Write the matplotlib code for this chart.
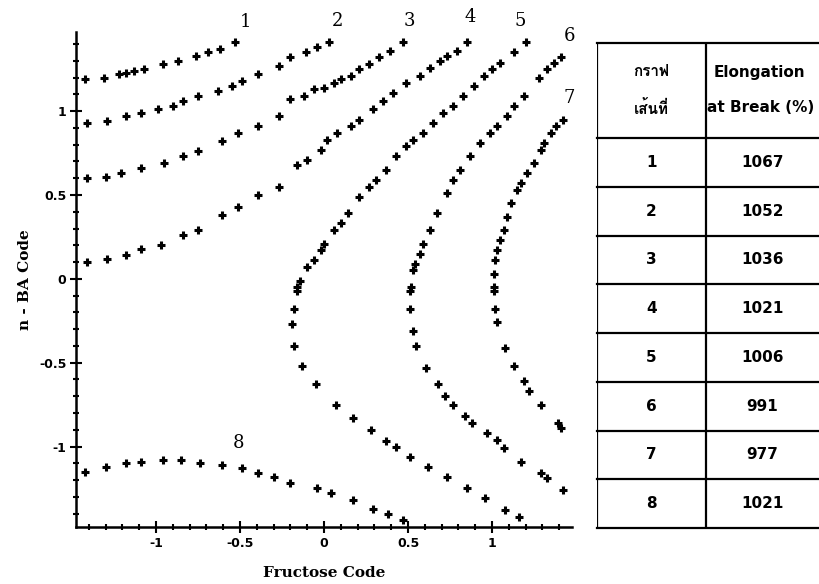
import matplotlib
matplotlib.use("Agg")
import matplotlib.pyplot as plt
from matplotlib import font_manager, ft2font
from matplotlib.ticker import MultipleLocator, FixedLocator

# contour lines of elongation at break, read as marker points (code units)
c1_x = [-1.42, -1.31, -1.22, -1.18, -1.13, -1.07, -0.96, -0.87, -0.76, -0.69, -0.62, -0.53]
c1_y = [1.19, 1.20, 1.22, 1.23, 1.24, 1.25, 1.28, 1.30, 1.33, 1.35, 1.37, 1.41]
c2_x = [-1.41, -1.29, -1.18, -1.09, -0.99, -0.90, -0.84, -0.75, -0.63, -0.55, -0.49, -0.39, -0.27, -0.20,
        -0.11, -0.04, 0.03]
c2_y = [0.93, 0.94, 0.97, 0.99, 1.01, 1.03, 1.06, 1.09, 1.12, 1.15, 1.18, 1.22, 1.27, 1.32, 1.35, 1.38, 1.41]
c3_x = [-1.41, -1.30, -1.21, -1.09, -0.95, -0.84, -0.75, -0.61, -0.51, -0.39, -0.27, -0.20, -0.12, -0.06,
        0.00, 0.06, 0.10, 0.16, 0.21, 0.27, 0.33, 0.39, 0.47]
c3_y = [0.60, 0.61, 0.63, 0.66, 0.69, 0.73, 0.76, 0.82, 0.87, 0.91, 0.97, 1.07, 1.09, 1.13, 1.14, 1.17, 1.19,
        1.21, 1.25, 1.28, 1.32, 1.36, 1.41]
c4_x = [-1.41, -1.29, -1.18, -1.09, -0.97, -0.84, -0.75, -0.61, -0.51, -0.39, -0.27, -0.16, -0.10, -0.02,
        0.02, 0.08, 0.16, 0.21, 0.29, 0.35, 0.41, 0.49, 0.57, 0.63, 0.69, 0.73, 0.79, 0.85]
c4_y = [0.10, 0.12, 0.14, 0.18, 0.20, 0.26, 0.29, 0.38, 0.43, 0.50, 0.55, 0.68, 0.71, 0.77, 0.83, 0.87, 0.91,
        0.95, 1.01, 1.06, 1.11, 1.17, 1.21, 1.26, 1.30, 1.33, 1.36, 1.41]
c5_x = [1.20, 1.13, 1.05, 1.00, 0.95, 0.89, 0.83, 0.77, 0.71, 0.65, 0.59, 0.53, 0.49, 0.43, 0.37, 0.31, 0.27,
        0.21, 0.14, 0.10, 0.06, 0.00, -0.02, -0.06, -0.10, -0.14, -0.16, -0.16, -0.18, -0.19, -0.18, -0.13,
        -0.05, 0.07, 0.17, 0.28, 0.37, 0.43, 0.51, 0.62, 0.73, 0.85, 0.96, 1.08, 1.16]
c5_y = [1.41, 1.35, 1.29, 1.25, 1.21, 1.15, 1.09, 1.03, 0.99, 0.93, 0.87, 0.83, 0.79, 0.73, 0.65, 0.59, 0.55,
        0.49, 0.39, 0.33, 0.29, 0.21, 0.17, 0.11, 0.07, -0.01, -0.05, -0.07, -0.18, -0.27, -0.40, -0.52,
        -0.63, -0.75, -0.83, -0.90, -0.97, -1.00, -1.06, -1.12, -1.18, -1.25, -1.31, -1.38, -1.42]
c6_x = [1.41, 1.37, 1.33, 1.28, 1.19, 1.13, 1.09, 1.03, 0.99, 0.93, 0.87, 0.81, 0.77, 0.73, 0.67, 0.63, 0.59,
        0.57, 0.54, 0.53, 0.52, 0.51, 0.51, 0.53, 0.55, 0.61, 0.68, 0.72, 0.77, 0.84, 0.88, 0.97, 1.03, 1.07,
        1.17, 1.29, 1.33, 1.42]
c6_y = [1.32, 1.29, 1.25, 1.20, 1.09, 1.03, 0.97, 0.91, 0.87, 0.81, 0.73, 0.65, 0.59, 0.51, 0.39, 0.29, 0.21,
        0.15, 0.09, 0.05, -0.05, -0.07, -0.18, -0.31, -0.40, -0.53, -0.63, -0.70, -0.75, -0.82, -0.86, -0.92,
        -0.96, -1.01, -1.09, -1.16, -1.19, -1.26]
c7_x = [1.42, 1.38, 1.35, 1.31, 1.29, 1.25, 1.21, 1.17, 1.15, 1.11, 1.09, 1.07, 1.05, 1.03, 1.02, 1.01, 1.01,
        1.01, 1.02, 1.03, 1.08, 1.13, 1.19, 1.22, 1.29, 1.39, 1.41]
c7_y = [0.95, 0.91, 0.87, 0.81, 0.77, 0.69, 0.63, 0.57, 0.53, 0.45, 0.37, 0.29, 0.23, 0.17, 0.11, 0.03, -0.05,
        -0.07, -0.18, -0.26, -0.41, -0.52, -0.61, -0.67, -0.75, -0.86, -0.89]
c8_x = [-1.42, -1.30, -1.18, -1.09, -0.96, -0.85, -0.74, -0.61, -0.49, -0.39, -0.30, -0.20, -0.04, 0.04, 0.17,
        0.29, 0.38, 0.47]
c8_y = [-1.15, -1.12, -1.10, -1.09, -1.08, -1.08, -1.10, -1.11, -1.13, -1.16, -1.18, -1.22, -1.25, -1.28, -1.32,
        -1.37, -1.40, -1.44]

curves_x = [c1_x, c2_x, c3_x, c4_x, c5_x, c6_x, c7_x, c8_x]
curves_y = [c1_y, c2_y, c3_y, c4_y, c5_y, c6_y, c7_y, c8_y]

# where each curve number is written
label_x = [-0.47, 0.08, 0.51, 0.87, 1.17, 1.46, 1.46, -0.51]
label_y = [1.53, 1.54, 1.54, 1.56, 1.54, 1.45, 1.08, -0.98]

line_no = ['1', '2', '3', '4', '5', '6', '7', '8']
elongation = [1067, 1052, 1036, 1021, 1006, 991, 977, 1021]
head_left = ['กราฟ', 'เส้นที่']
head_right = ['Elongation', 'at Break (%)']

xticks = [-1, -0.5, 0, 0.5, 1]
yticks = [-1, -0.5, 0, 0.5, 1]


def thai_family():
    # pick any installed font that actually has Thai glyphs
    for f in font_manager.fontManager.ttflist:
        try:
            if 0x0E01 in ft2font.FT2Font(f.fname).get_charmap():
                return f.name
        except Exception:
            pass
    return 'DejaVu Sans'


def main():
    fig = plt.figure(figsize=(8.2, 5.84), dpi=100)
    ax = fig.add_axes([76 / 820, 57 / 584, 496 / 820, 495 / 584])

    for xs, ys in zip(curves_x, curves_y):
        ax.plot(xs, ys, ls='none', marker='+', ms=5.5, mew=2.2, color='black')
    for k in range(len(line_no)):
        ax.text(label_x[k], label_y[k], line_no[k], fontsize=13, family='DejaVu Serif',
                ha='center', va='center', clip_on=False)

    ax.set_xlim(-1.476, 1.476)
    ax.set_ylim(-1.48, 1.472)
    for side in ['top', 'right']:
        ax.spines[side].set_visible(False)
    for side in ['left', 'bottom']:
        ax.spines[side].set_linewidth(1.8)
    ax.xaxis.set_major_locator(FixedLocator(xticks))
    ax.yaxis.set_major_locator(FixedLocator(yticks))
    ax.xaxis.set_minor_locator(MultipleLocator(0.1))
    ax.yaxis.set_minor_locator(MultipleLocator(0.1))
    ax.set_xticklabels(['-1', '-0.5', '0', '0.5', '1'])
    ax.set_yticklabels(['-1', '-0.5', '0', '0.5', '1'])
    ax.tick_params(which='major', direction='inout', length=8, width=1.5, labelsize=9, pad=3)
    ax.tick_params(which='minor', direction='inout', length=5, width=1.5)
    for t in ax.get_xticklabels() + ax.get_yticklabels():
        t.set_fontweight('bold')
    ax.set_xlabel('Fructose Code', family='DejaVu Serif', fontsize=11, fontweight='bold', labelpad=12)
    ax.set_ylabel('n - BA Code', family='DejaVu Serif', fontsize=11, fontweight='bold', labelpad=5)

    # table on the right, running off the edge of the figure
    tab = fig.add_axes([597 / 820, 56 / 584, 240 / 820, 485 / 584])
    tab.set_xlim(0, 1)
    tab.set_ylim(0, 485)
    tab.axis('off')
    head_h = 95
    row_h = (485 - head_h) / len(line_no)
    col = 109 / 240
    lw = 1.6
    tab.plot([0, 1], [485, 485], color='black', lw=lw, clip_on=False)
    tab.plot([0, 0], [0, 485], color='black', lw=lw)
    tab.plot([col, col], [0, 485], color='black', lw=lw)
    for i in range(len(line_no) + 1):
        y = i * row_h
        tab.plot([0, 1], [y, y], color='black', lw=lw, clip_on=False)

    thai = thai_family()
    tab.text(col / 2, 485 - 29, head_left[0], family=[thai, 'DejaVu Sans'], fontsize=11,
             fontweight='bold', ha='center', va='center')
    tab.text(col / 2, 485 - 65, head_left[1], family=[thai, 'DejaVu Sans'], fontsize=11,
             fontweight='bold', ha='center', va='center')
    tab.text(col + 0.03, 485 - 29, head_right[0], fontsize=11, fontweight='bold', ha='left', va='center')
    tab.text(col + 0.005, 485 - 65, head_right[1], fontsize=11, fontweight='bold', ha='left', va='center')
    for i in range(len(line_no)):
        yc = 485 - head_h - (i + 0.5) * row_h
        tab.text(col / 2, yc, line_no[i], fontsize=11, fontweight='bold', ha='center', va='center')
        tab.text(col + 0.235, yc, str(elongation[i]), fontsize=11, fontweight='bold',
                 ha='center', va='center')

    fig.savefig('out.png', dpi=100)


if __name__ == "__main__":
    main()
